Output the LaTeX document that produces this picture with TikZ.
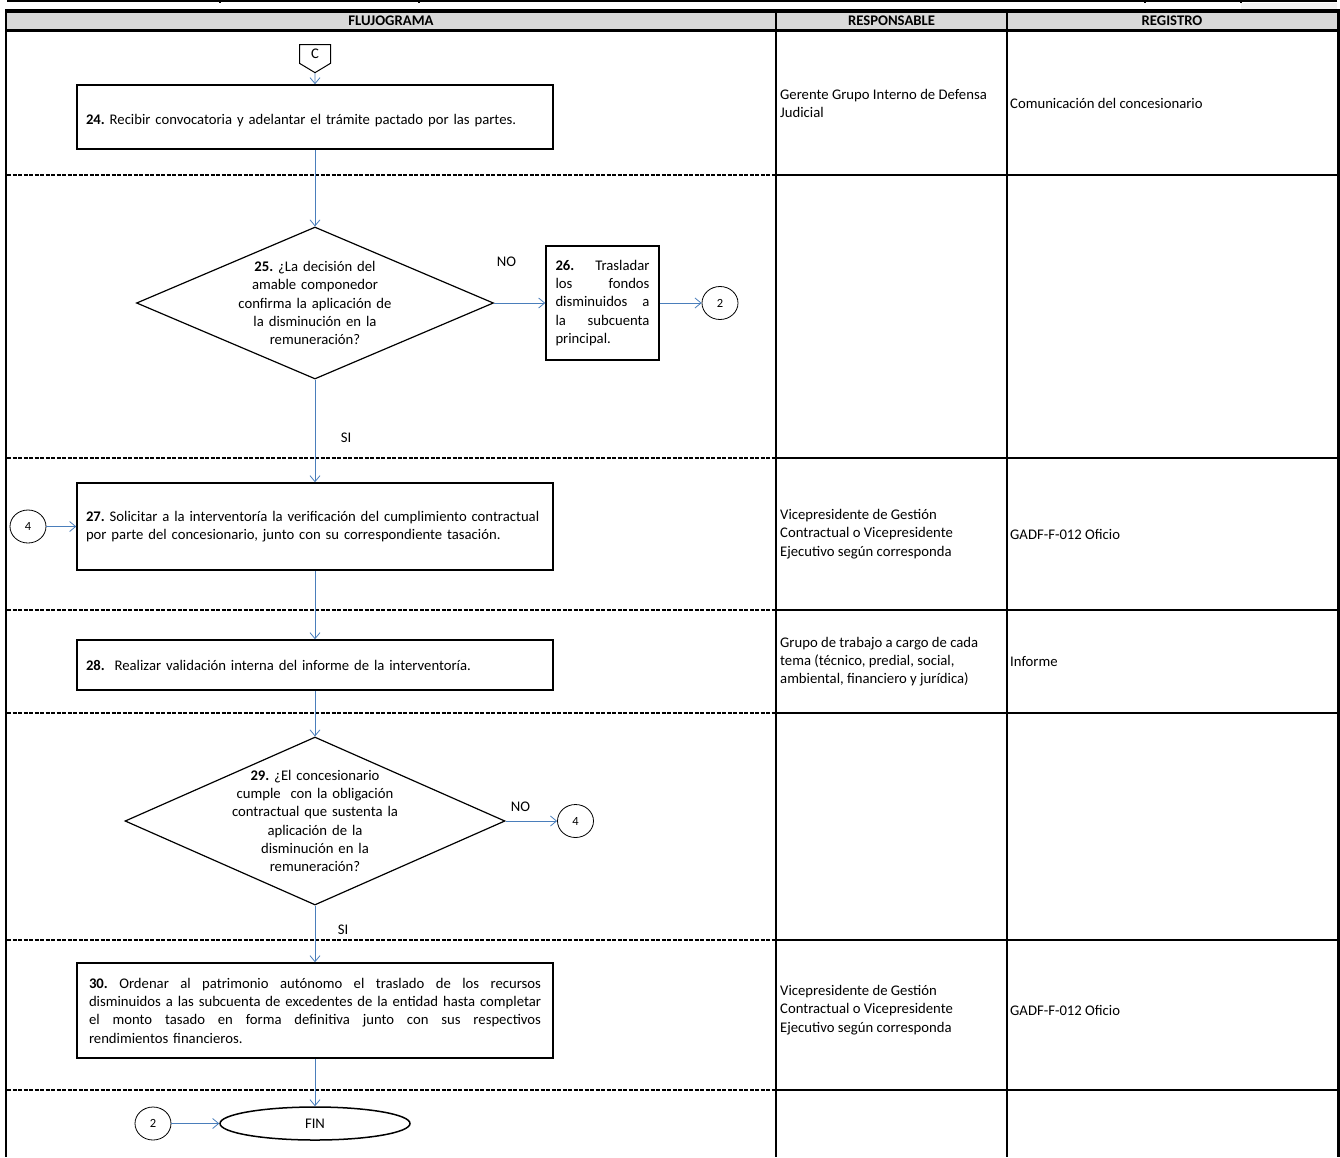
\documentclass[tikz,border=0pt]{standalone}
\usepackage{fontspec}
\setmainfont{Carlito}
\usetikzlibrary{shapes.geometric,shapes.symbols,arrows.meta,positioning}

\definecolor{flowblue}{RGB}{74,126,187}
\definecolor{headgray}{RGB}{217,217,217}

% one justified line of box 30
\newcommand\jline[1]{\leavevmode\hbox to 452pt{\spaceskip=0.226em plus 1fil\relax #1}}

\tikzset{
  proc/.style={draw, line width=1.5pt, minimum width=476pt, text width=458pt, inner xsep=9pt, align=left},
  decision/.style={draw, diamond, line width=1.2pt, inner sep=-8pt, align=center},
  conn/.style={draw, ellipse, line width=0.8pt, minimum width=36pt, minimum height=33pt, inner sep=0pt, font=\fontsize{12.5}{14}\selectfont},
  terminal/.style={draw, ellipse, line width=1.5pt, minimum width=190pt, minimum height=33pt, inner sep=0pt},
  offpage/.style={draw, signal, signal to=south, signal from=nowhere, signal pointer angle=118, line width=1pt, minimum width=31pt, minimum height=21pt, inner sep=0pt},
  line/.style={draw=flowblue, line width=0.8pt, -{Straight Barb[length=6pt,width=10pt]}},
  rowsep/.style={line width=1.2pt, dash pattern=on 4pt off 1.5pt},
  cell/.style={anchor=west, align=left, inner sep=0pt},
  head/.style={font=\fontsize{14.7}{18.3}\selectfont\bfseries}
}

\begin{document}
\frenchspacing
\begin{tikzpicture}[x=1pt, y=-1pt]
	\fontsize{14.7}{18.3}\selectfont
	\hyphenpenalty=10000
	\useasboundingbox (0,0) rectangle (1340,1157);

	% frame of the table
	\fill[black!5] (1241,2.5) rectangle (1337,9);
	\fill (7,0) rectangle (1337,2.2);
	\foreach \x in {220,419,1145,1241} \fill (\x-1,0) rectangle (\x+1,3);
	\fill[headgray] (7,13) rectangle (1337,29);
	\draw[line width=4pt] (5,11) -- (1340,11);
	\draw[line width=3pt] (5,30.5) -- (1340,30.5);
	\draw[line width=2.5pt] (6,9) -- (6,1157);
	\draw[line width=3pt] (1338.5,9) -- (1338.5,1157);
	\draw[line width=2pt] (776,9) -- (776,1157);
	\draw[line width=2pt] (1007,9) -- (1007,1157);
	\foreach \y in {175,458,610,713,940,1090}{
		\draw[rowsep] (7,\y) -- (775,\y);
		\draw[line width=2pt] (776,\y) -- (1338,\y);
	}

	\node[head] (hflujo) at (391,21) {FLUJOGRAMA};
	\node[head] (hresp) at (891.5,21) {RESPONSABLE};
	\node[head] (hreg) at (1172,21) {REGISTRO};

	% flujograma
	\node[offpage] (offC) at (315,54) {C};
	\node[proc, minimum height=64pt] (p24) at (315,117) {\mbox{}\\\textbf{24.} Recibir convocatoria y adelantar el trámite pactado por las partes.};
	\path [line] (offC) -- (p24);

	\node[decision, aspect=2.35, minimum width=357pt, minimum height=152pt, text width=172pt] (d25) at (315,303) {\textbf{25.} ¿La decisión del\\amable componedor\\confirma la aplicación de\\la disminución en la\\remuneración?};
	\path [line] (p24) -- (d25);

	\node[draw, line width=1.5pt, minimum width=113pt, minimum height=114pt, text width=94pt, align=left, inner xsep=9.5pt] (p26) at (602.5,303) {\textbf{26.}\hfill Trasladar\\los\hfill fondos\\disminuidos\hfill a\\la\hfill subcuenta\\principal.};
	\path [line] (d25) -- node[pos=0.24, above=31pt, text=black] {NO} (p26);

	\node[conn] (c2a) at (720,303) {2};
	\path [line] (p26) -- (c2a);

	\node[proc, minimum height=87pt] (p27) at (315,526.5) {\textbf{27.} Solicitar a la interventoría la verificación del cumplimiento contractual\\por parte del concesionario, junto con su correspondiente tasación.};
	\path [line] (d25) -- node[pos=0.57, xshift=31pt, text=black] {SI} (p27);

	\node[conn] (c4a) at (28,526.5) {4};
	\path [line] (c4a) -- (p27);

	\node[proc, minimum height=50pt] (p28) at (315,665) {\textbf{28.}~ Realizar validación interna del informe de la interventoría.};
	\path [line] (p27) -- (p28);

	\node[decision, aspect=2.26, minimum width=380pt, minimum height=168pt, text width=178pt] (d29) at (315,821) {\textbf{29.} ¿El concesionario\\cumple~ con la obligación\\contractual que sustenta la\\aplicación de la\\disminución en la\\remuneración?};
	\path [line] (p28) -- (d29);

	\node[conn] (c4b) at (575.5,821) {4};
	\path [line] (d29) -- node[pos=0.29, above=4pt, text=black] {NO} (c4b);

	\node[proc, minimum height=95pt, text width=452pt, inner xsep=12pt] (p30) at (315,1010.5) {\jline{\textbf{30.} Ordenar al patrimonio autónomo el traslado de los recursos}\\\jline{disminuidos a las subcuenta de excedentes de la entidad hasta completar}\\\jline{el monto tasado en forma definitiva junto con sus respectivos}\\rendimientos financieros.};
	\path [line] (d29) -- node[pos=0.43, xshift=28pt, text=black] {SI} (p30);

	\node[terminal] (fin) at (315,1123.5) {FIN};
	\path [line] (p30) -- (fin);

	\node[conn] (c2b) at (153,1123.5) {2};
	\path [line] (c2b) -- (fin);

	% responsable y registro
	\node[cell] (r24) at (780,103.5) {Gerente Grupo Interno de Defensa\\Judicial};
	\node[cell] (g24) at (1010,103.5) {Comunicación del concesionario};
	\node[cell] (r27) at (780,534) {Vicepresidente de Gestión\\Contractual o Vicepresidente\\Ejecutivo según corresponda};
	\node[cell] (g27) at (1010,534) {GADF-F-012 Oficio};
	\node[cell] (r28) at (780,661.5) {Grupo de trabajo a cargo de cada\\tema (técnico, predial, social,\\ambiental, financiero y jurídica)};
	\node[cell] (g28) at (1010,661.5) {Informe};
	\node[cell] (r30) at (780,1010) {Vicepresidente de Gestión\\Contractual o Vicepresidente\\Ejecutivo según corresponda};
	\node[cell] (g30) at (1010,1010) {GADF-F-012 Oficio};
\end{tikzpicture}
\end{document}
